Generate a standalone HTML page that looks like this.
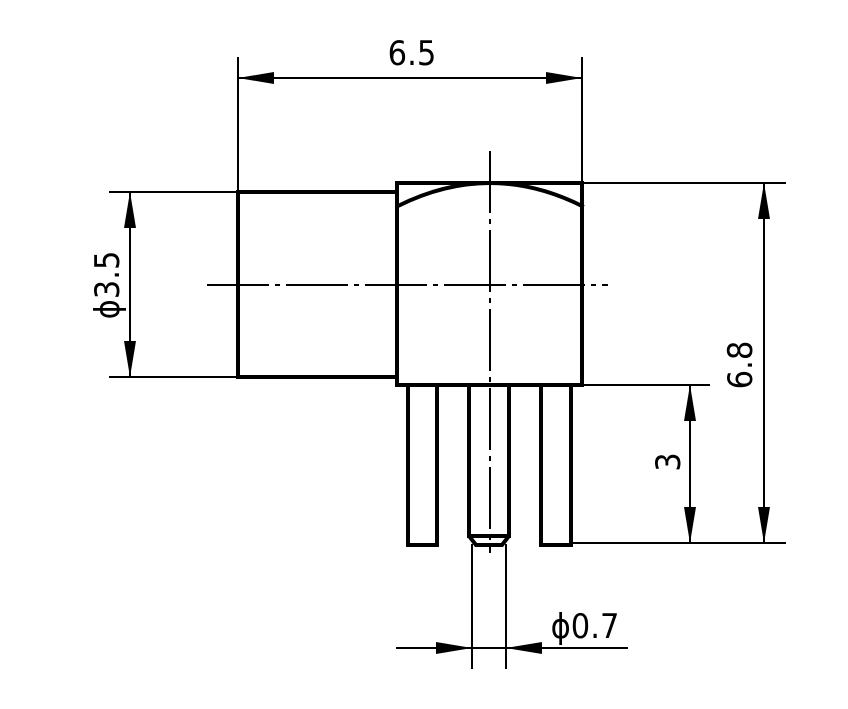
<!DOCTYPE html>
<html><head><meta charset="utf-8"><style>html,body{margin:0;padding:0;background:#fff}svg{display:block}</style></head>
<body>
<svg width="848" height="709" viewBox="0 0 848 709" xmlns="http://www.w3.org/2000/svg">
<g fill="none" stroke="#000" stroke-linecap="square">
 <!-- thick outlines -->
 <g stroke-width="4">
  <rect x="238" y="192" width="159" height="185"/>
  <rect x="397" y="183" width="185" height="202"/>
  <path d="M398 206 Q490 160 582 206"/>
  <rect x="408" y="385" width="29" height="160"/>
  <rect x="541" y="385" width="30" height="160"/>
  <path d="M469 385 V536 L476 545 H502 L509 536 V385"/>
  <path d="M469 536 H509"/>
 </g>
 <!-- thin lines -->
 <g stroke-width="2">
  <!-- centerlines -->
  <path d="M208 285 H607" stroke-dasharray="60 8 3 8"/>
  <path d="M490 152 V552" stroke-dasharray="60 8 3 8"/>
  <!-- 6.5 -->
  <path d="M238 58 V192 M582 58 V183 M238 78 H582"/>
  <!-- 3.5 -->
  <path d="M110 192 H238 M110 377 H238 M130 192 V377"/>
  <!-- 6.8 and 3 -->
  <path d="M582 183 H785 M571 543 H785 M582 385 H709 M764 183 V543 M690 385 V543"/>
  <!-- 0.7 -->
  <path d="M472 545 V668 M506 545 V668 M397 648 H627"/>
 </g>
</g>
<g fill="#000">
 <polygon points="238,78 274,72 274,84"/>
 <polygon points="582,78 546,72 546,84"/>
 <polygon points="130,192 124,228 136,228"/>
 <polygon points="130,377 124,341 136,341"/>
 <polygon points="764,183 758,219 770,219"/>
 <polygon points="764,543 758,507 770,507"/>
 <polygon points="690,385 684,421 696,421"/>
 <polygon points="690,543 684,507 696,507"/>
 <polygon points="472,648 436,642 436,654"/>
 <polygon points="506,648 542,642 542,654"/>
</g>
<g font-family="'DejaVu Sans','Liberation Sans',sans-serif" font-size="34" fill="#000">
 <text x="412" y="65" text-anchor="middle" transform="translate(412 0) scale(0.9 1) translate(-412 0)">6.5</text>
 <text x="0" y="0" text-anchor="middle" transform="translate(119 285) rotate(-90) scale(0.9 1)">ϕ3.5</text>
 <text x="0" y="0" text-anchor="middle" transform="translate(752 365) rotate(-90) scale(0.9 1)">6.8</text>
 <text x="0" y="0" text-anchor="middle" transform="translate(680 462) rotate(-90) scale(0.9 1)">3</text>
 <text x="585" y="638" text-anchor="middle" transform="translate(585 0) scale(0.9 1) translate(-585 0)">ϕ0.7</text>
</g>
</svg>
</body></html>
